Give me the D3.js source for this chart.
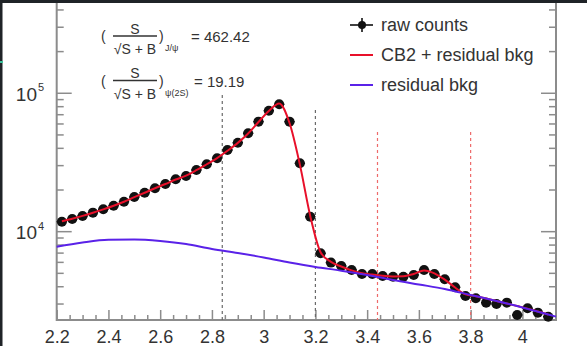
<!DOCTYPE html>
<html>
<head>
<meta charset="utf-8">
<script src="https://cdn.jsdelivr.net/npm/d3@7"></script>
<style>
  body { margin: 0; background: #fff; }
  svg { display: block; }
  text { font-family: 'Liberation Sans', Arial, Helvetica, sans-serif; fill: #333; }
</style>
</head>
<body>
<svg id="area" width="587" height="346"></svg>
<script>
// invariant mass bin centres (GeV/c^2)
const massBins = [2.22, 2.26, 2.30, 2.34, 2.38, 2.42, 2.46, 2.50, 2.54, 2.58, 2.62, 2.66,
  2.70, 2.74, 2.78, 2.82, 2.86, 2.90, 2.94, 2.98, 3.02, 3.06, 3.10, 3.14, 3.18, 3.22,
  3.26, 3.30, 3.34, 3.38, 3.42, 3.46, 3.50, 3.54, 3.58, 3.62, 3.66, 3.70, 3.74, 3.78,
  3.82, 3.86, 3.90, 3.94, 3.98, 4.02, 4.06, 4.10];
const rawCounts = [11810, 12350, 12990, 13720, 14510, 15410, 16470, 17810, 19130, 20590,
  22120, 23910, 25260, 27920, 30690, 33900, 38900, 43950, 51400, 62360, 74850, 83220,
  62360, 31190, 12830, 6980, 5975, 5650, 5290, 4945, 4945, 4785, 4730, 4730, 4865, 5290,
  4945, 4530, 3965, 3430, 3305, 3070, 3005, 3070, 2500, 2800, 2600, 2430];
const fitCounts = [11900, 12400, 13000, 13700, 14500, 15400, 16450, 17750, 19100, 20600,
  22100, 23800, 25400, 27800, 30700, 34000, 38400, 43800, 51200, 62000, 74500, 84500,
  61000, 30500, 13000, 7100, 6050, 5600, 5250, 5000, 4900, 4800, 4750, 4760, 4950, 5250,
  5000, 4500, 3950, 3520, 3420, 3290, 3157, 3025, 2900, 2780, 2650, 2520];
const bkgMass = [2.2, 2.3, 2.4, 2.5, 2.6, 2.7, 2.8, 2.9, 3.0, 3.1, 3.2, 3.3, 3.4, 3.5,
  3.6, 3.7, 3.8, 3.9, 4.0, 4.13];
const bkgCounts = [7790, 8356, 8740, 8780, 8565, 8150, 7500, 7015, 6510, 5990, 5560, 5227,
  4865, 4477, 4155, 3855, 3488, 3157, 2834, 2432];
const jpsiWindow = [2.84, 3.2];
const jpsiWindowTop = [97000, 75700];
const psi2sWindow = [3.44, 3.8];
const psi2sWindowTop = [52500, 52500];
const xTicks = [2.2, 2.4, 2.6, 2.8, 3.0, 3.2, 3.4, 3.6, 3.8, 4.0];
const yDecades = [1e4, 1e5];
const legendLabels = ['raw counts', 'CB2 + residual bkg', 'residual bkg'];
const significance = [
  { sub: 'J/\u03c8', value: '462.42' },
  { sub: '\u03c8(2S)', value: '19.19' },
];

const svg = d3.select('#area');
const left = 56.7;
const right = 556;
const bottom = 320;
const binHalf = 0.02;

const x = d3.scaleLinear().domain([2.2, 4.13]).range([left, right]);
const y = d3.scaleLog().domain([2300, 472000]).range([bottom, 0]);

const axisColor = '#8c8c8c';

// x axis: major + minor ticks pointing inward
const xMinor = d3.range(2.25, 4.13, 0.05).filter((v) => Math.abs(v * 5 - Math.round(v * 5)) > 1e-6);
svg.append('g')
  .attr('transform', `translate(0,${bottom})`)
  .call(d3.axisBottom(x).tickValues(xMinor).tickSize(-5).tickFormat(''))
  .call((g) => g.select('.domain').remove())
  .call((g) => g.selectAll('.tick line').attr('stroke', axisColor).attr('stroke-width', 1.5));

svg.append('g')
  .attr('transform', `translate(0,${bottom})`)
  .call(d3.axisBottom(x).tickValues(xTicks).tickSize(-10).tickPadding(10)
    .tickFormat((d) => String(+d.toFixed(1))))
  .call((g) => g.select('.domain').remove())
  .call((g) => g.selectAll('.tick line').attr('stroke', axisColor).attr('stroke-width', 1.5))
  .call((g) => g.selectAll('.tick text').attr('fill', '#3a3a3a')
    .style('font-size', '18px'));

// y axis minor ticks
const yMinor = [];
[1e3, 1e4, 1e5].forEach((dec) => {
  for (let k = 2; k <= 9; k += 1) {
    const v = dec * k;
    if (v > 2300 && v < 472000) yMinor.push(v);
  }
});

[[left, 1], [right, -1]].forEach(([xPos, dir]) => {
  svg.append('g').selectAll('line.minor')
    .data(yMinor)
    .join('line')
    .attr('x1', xPos)
    .attr('x2', xPos + dir * 7)
    .attr('y1', (d) => y(d))
    .attr('y2', (d) => y(d))
    .attr('stroke', axisColor)
    .attr('stroke-width', 1.5);
  svg.append('g').selectAll('line.major')
    .data(yDecades)
    .join('line')
    .attr('x1', xPos)
    .attr('x2', xPos + dir * 15)
    .attr('y1', (d) => y(d))
    .attr('y2', (d) => y(d))
    .attr('stroke', axisColor)
    .attr('stroke-width', 1.5);
});

// y labels 10^n
const yLab = svg.append('g').selectAll('g')
  .data(yDecades)
  .join('g')
  .attr('transform', (d) => `translate(0,${y(d)})`);
yLab.append('text')
  .attr('x', 37)
  .attr('y', 7.5)
  .attr('text-anchor', 'end')
  .style('font-size', '19px')
  .attr('fill', '#3a3a3a')
  .text('10');
yLab.append('text')
  .attr('x', 38)
  .attr('y', -2)
  .style('font-size', '11px')
  .attr('fill', '#3a3a3a')
  .text((d) => Math.round(Math.log10(d)));

// frame
svg.append('path')
  .attr('d', `M${left},0V${bottom}H${right}V0`)
  .attr('fill', 'none')
  .attr('stroke', axisColor)
  .attr('stroke-width', 2);

// signal windows
const windows = svg.append('g');
windows.selectAll('line.jpsi')
  .data(jpsiWindow)
  .join('line')
  .attr('x1', (d) => x(d))
  .attr('x2', (d) => x(d))
  .attr('y1', (d, i) => y(jpsiWindowTop[i]))
  .attr('y2', bottom)
  .attr('stroke', '#6a6a6a')
  .attr('stroke-width', 1.2)
  .attr('stroke-dasharray', '3,3');
windows.selectAll('line.psi')
  .data(psi2sWindow)
  .join('line')
  .attr('x1', (d) => x(d))
  .attr('x2', (d) => x(d))
  .attr('y1', (d, i) => y(psi2sWindowTop[i]))
  .attr('y2', bottom)
  .attr('stroke', '#ee6a6a')
  .attr('stroke-width', 1.2)
  .attr('stroke-dasharray', '3,3');

// raw counts
const raw = massBins.map((m, i) => ({ m, c: rawCounts[i] }));
const pts = svg.append('g');
pts.selectAll('line')
  .data(raw)
  .join('line')
  .attr('x1', (d) => x(d.m - binHalf))
  .attr('x2', (d) => x(d.m + binHalf))
  .attr('y1', (d) => y(d.c))
  .attr('y2', (d) => y(d.c))
  .attr('stroke', '#000')
  .attr('stroke-width', 1.5);
pts.selectAll('circle')
  .data(raw)
  .join('circle')
  .attr('cx', (d) => x(d.m))
  .attr('cy', (d) => y(d.c))
  .attr('r', 5)
  .attr('fill', '#111');

// fit curves
const line = d3.line()
  .x((d) => x(d[0]))
  .y((d) => y(d[1]))
  .curve(d3.curveMonotoneX);

svg.append('path')
  .datum(massBins.map((m, i) => [m, fitCounts[i]]))
  .attr('d', line)
  .attr('fill', 'none')
  .attr('stroke', '#e8102a')
  .attr('stroke-width', 2);

svg.append('path')
  .datum(bkgMass.map((m, i) => [m, bkgCounts[i]]))
  .attr('d', line)
  .attr('fill', 'none')
  .attr('stroke', '#5a22e8')
  .attr('stroke-width', 2);

// legend
const legend = svg.append('g').attr('transform', 'translate(350,25)');
const rowGap = 30;
legend.append('line')
  .attr('x1', 0).attr('x2', 23).attr('y1', 0).attr('y2', 0)
  .attr('stroke', '#000').attr('stroke-width', 1.5);
legend.append('line')
  .attr('x1', 12).attr('x2', 12).attr('y1', -7).attr('y2', 7)
  .attr('stroke', '#000').attr('stroke-width', 1.5);
legend.append('circle')
  .attr('cx', 12).attr('cy', 0).attr('r', 4)
  .attr('fill', '#111');
legend.append('line')
  .attr('x1', 0).attr('x2', 23).attr('y1', rowGap).attr('y2', rowGap)
  .attr('stroke', '#e8102a').attr('stroke-width', 2);
legend.append('line')
  .attr('x1', 0).attr('x2', 23).attr('y1', rowGap * 2).attr('y2', rowGap * 2)
  .attr('stroke', '#5a22e8').attr('stroke-width', 2);
legend.selectAll('text')
  .data(legendLabels)
  .join('text')
  .attr('x', 31)
  .attr('y', (d, i) => i * rowGap)
  .attr('dy', '0.35em')
  .style('font-size', '18px')
  .text((d) => d);

// significance annotations
const ann = svg.append('g').selectAll('g')
  .data(significance)
  .join('g')
  .attr('transform', (d, i) => `translate(0,${i * 44.5})`);
ann.append('text')
  .attr('x', 101).attr('y', 41)
  .style('font-size', '14px')
  .text('(');
ann.append('text')
  .attr('x', 135).attr('y', 33.5)
  .attr('text-anchor', 'middle')
  .style('font-size', '14px')
  .text('S');
ann.append('line')
  .attr('x1', 113).attr('x2', 157).attr('y1', 36).attr('y2', 36)
  .attr('stroke', '#333').attr('stroke-width', 1.6);
ann.append('text')
  .attr('x', 135).attr('y', 54)
  .attr('text-anchor', 'middle')
  .style('font-size', '14px')
  .text('\u221AS + B');
ann.append('text')
  .attr('x', 159).attr('y', 41)
  .style('font-size', '14px')
  .text(')');
ann.append('text')
  .attr('x', 165).attr('y', 51)
  .style('font-size', '9px')
  .text((d) => d.sub);
ann.append('text')
  .attr('x', (d) => (d.sub.length > 3 ? 194 : 191)).attr('y', 42)
  .style('font-size', '15px')
  .text((d) => `= ${d.value}`);

// screenshot edge
svg.append('rect').attr('x', 0).attr('y', 0).attr('width', 587).attr('height', 3)
  .attr('fill', '#1f2327');
svg.append('rect').attr('x', 0).attr('y', 0).attr('width', 2.5).attr('height', 346)
  .attr('fill', '#1f2327');
svg.append('rect').attr('x', 0).attr('y', 61).attr('width', 3).attr('height', 2)
  .attr('fill', '#3cbf9a');
</script>
</body>
</html>
